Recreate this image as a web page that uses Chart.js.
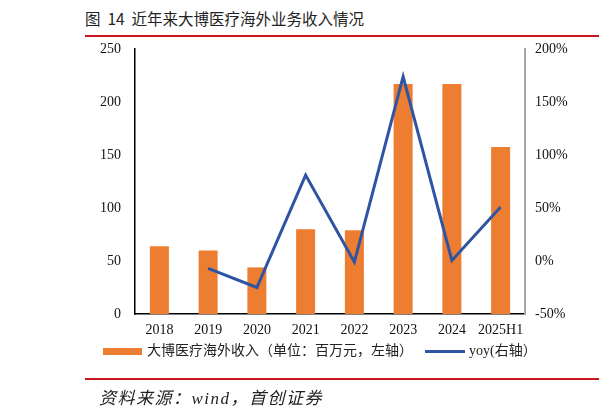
<!DOCTYPE html>
<html lang="zh">
<head>
<meta charset="UTF-8">
<title>近年来大博医疗海外业务收入情况</title>
<script src="https://cdn.jsdelivr.net/npm/chart.js"></script>
<style>
  body { margin: 0; background: #fff; }
  #wrap { position: relative; width: 599px; height: 415px; overflow: hidden; }
  #title { position: absolute; left: 85px; top: 7px; font: 15.5px "Noto Sans CJK SC", "Noto Sans", sans-serif; color: #222; white-space: nowrap; }
  .rule { position: absolute; left: 85px; right: 0; height: 2px; background: #c8161d; }
  #chartBox { position: absolute; left: 0; top: 0; width: 599px; height: 415px; }
  #legend { position: absolute; top: 339px; left: 103px; font: 14px "Liberation Serif", "Noto Sans CJK SC", serif; color: #222; white-space: nowrap; }
  #legend span.sw { display: inline-block; vertical-align: middle; }
  #source { position: absolute; left: 99px; top: 384px; font: italic 17px "Liberation Serif", "Noto Sans CJK SC", serif; letter-spacing: 1.5px; color: #222; white-space: nowrap; }
</style>
</head>
<body>
<div id="wrap">
  <div id="title">图&nbsp; 14&nbsp; 近年来大博医疗海外业务收入情况</div>
  <div class="rule" style="top:35px"></div>
  <div id="chartBox"><canvas id="chart"></canvas></div>
  <div id="legend">
    <span class="sw" style="width:39px;height:7px;background:#ed7d31;margin-right:5px"></span>大博医疗海外收入（单位：百万元，左轴）<span class="sw" style="width:40px;height:3px;background:#2f54a3;margin:0 4px 0 12px"></span>yoy(右轴）
  </div>
  <div class="rule" style="top:378px"></div>
  <div id="source">资料来源：wind，首创证券</div>
</div>
<script>
// data
var years = ['2018', '2019', '2020', '2021', '2022', '2023', '2024', '2025H1'];
var revenue = [64, 60, 44, 80, 79, 217, 217, 157.5];   // 百万元
var yoy = [null, -7, -25, 81, -1, 174, 0.5, 51];       // %

var serif = '"Liberation Serif", "Times New Roman", serif';

var ctx = document.getElementById('chart').getContext('2d');
var chart = new Chart(ctx, {
    data: {
        labels: years,
        datasets: [{
            type: 'line',
            label: 'yoy(右轴）',
            data: yoy,
            yAxisID: 'y1',
            borderColor: '#2f54a3',
            borderWidth: 3,
            pointRadius: 0,
            tension: 0,
            spanGaps: false,
            order: 0
        }, {
            type: 'bar',
            label: '大博医疗海外收入（单位：百万元，左轴）',
            data: revenue,
            yAxisID: 'y',
            backgroundColor: '#ed7d31',
            barPercentage: 0.39,
            categoryPercentage: 1.0,
            order: 1
        }]
    },
    options: {
        responsive: true,
        maintainAspectRatio: false,
        animation: false,
        layout: { padding: { top: 49, bottom: 71, left: 0, right: 0 } },
        plugins: { legend: { display: false }, tooltip: { enabled: false } },
        scales: {
            x: {
                grid: { display: false, drawTicks: false },
                border: { color: '#000', width: 1.5 },
                ticks: { color: '#111', font: { family: serif, size: 14 }, padding: 8, maxRotation: 0 },
                afterFit: function(s) { s.height = 30; }
            },
            y: {
                position: 'left',
                min: 0, max: 250,
                grid: { display: false, drawTicks: false },
                border: { color: '#000', width: 1.5 },
                ticks: { stepSize: 50, color: '#111', font: { family: serif, size: 14 }, padding: 14 },
                afterFit: function(s) { s.width = 135; }
            },
            y1: {
                position: 'right',
                min: -50, max: 200,
                grid: { display: false, drawOnChartArea: false, drawTicks: true, tickLength: 4, color: '#a6a6a6', tickWidth: 1.5 },
                border: { color: '#a6a6a6', width: 2 },
                ticks: { stepSize: 50, color: '#111', font: { family: serif, size: 14 }, padding: 6,
                    callback: function(v) { return v + '%'; } },
                afterFit: function(s) { s.width = 74; }
            }
        }
    }
});
</script>
</body>
</html>
